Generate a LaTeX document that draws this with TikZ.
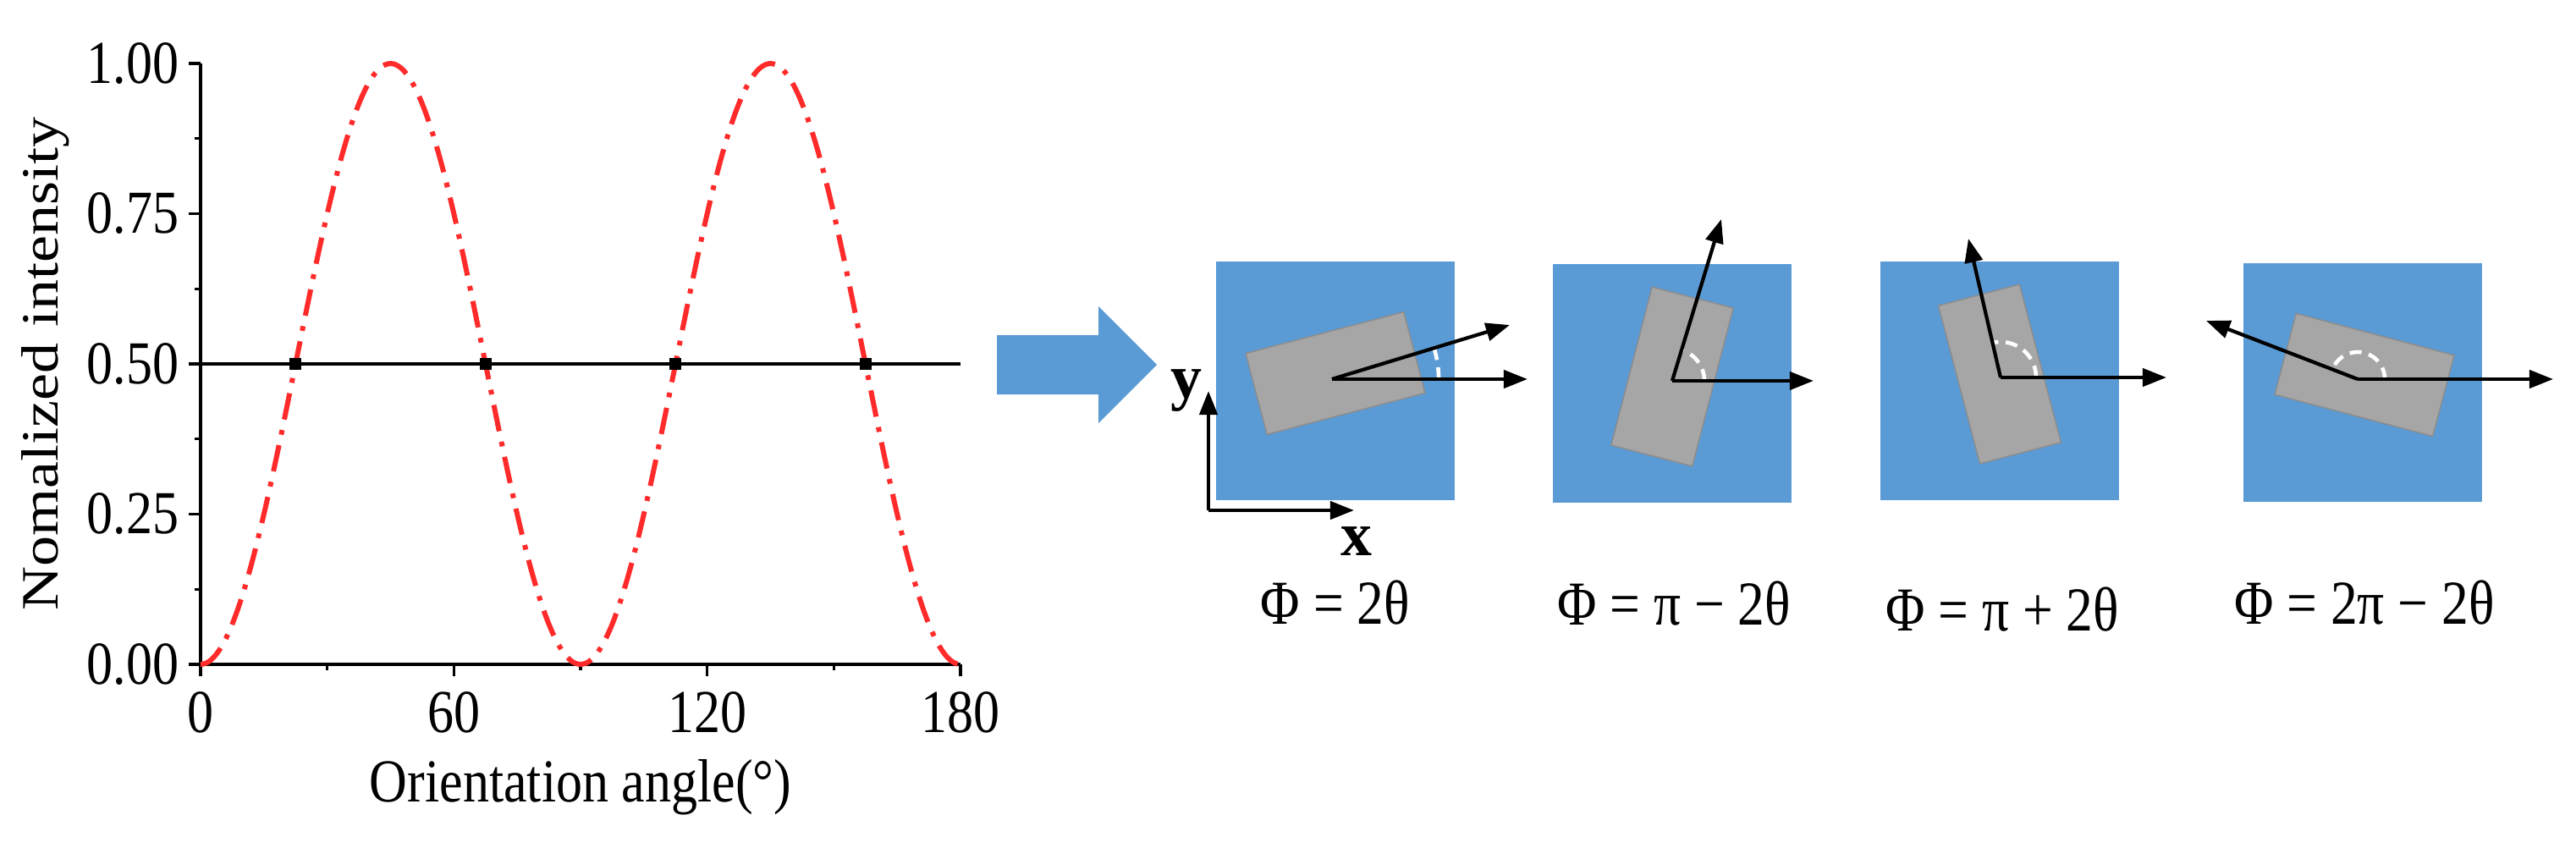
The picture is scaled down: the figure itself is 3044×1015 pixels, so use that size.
\documentclass[tikz,border=0pt]{standalone}
\usepackage{graphicx}
\usepackage{fontspec}
\setmainfont{Liberation Serif}
\usetikzlibrary{arrows.meta}
\newcommand{\cnd}[1]{\scalebox{0.86}[1]{#1}}
\begin{document}
\begin{tikzpicture}[x=0.01cm,y=-0.01cm,
  lbl/.style={font=\fontsize{20.5}{24}\selectfont, inner sep=0pt},
  phil/.style={font=\fontsize{21}{24}\selectfont, inner sep=0pt},
  axl/.style={font=\bfseries\fontsize{21}{24}\selectfont, inner sep=0pt},
  axline/.style={line width=0.9pt, black},
  mk/.style={fill=black, minimum size=0.14cm, inner sep=0pt},
  sq/.style={fill=sqblue, minimum width=2.81cm, minimum height=2.82cm, inner sep=0pt},
  gr/.style={fill=grayf, draw=grayd, line width=0.4pt, minimum width=1.93cm, minimum height=0.99cm, inner sep=0pt},
  vec/.style={line width=1.2pt, -{Triangle[length=8pt,width=6pt]}},
  arcd/.style={white, line width=1.3pt, dash pattern=on 4pt off 2.5pt}
]
\definecolor{sqblue}{HTML}{5B9BD5}
\definecolor{grayf}{HTML}{A6A6A6}
\definecolor{grayd}{HTML}{8C8C8C}
\definecolor{curvered}{HTML}{FF2A2A}
\useasboundingbox (0,0) rectangle (3044,1015);
% axes
\coordinate (O) at (237,785);
\coordinate (Ytop) at (237,75);
\coordinate (Xend) at (1135,785);
\draw[axline] (Ytop) -- (O) -- (Xend);
\foreach \v/\t in {0/0.00,0.25/0.25,0.5/0.50,0.75/0.75,1/1.00}{
  \draw[axline] (223,{785-710*\v}) -- (237,{785-710*\v});
  \node[lbl, anchor=east] (yl\t) at (212,{785-710*\v}) {\cnd{\t}};
}
\foreach \v in {0.125,0.375,0.625,0.875}{
  \draw[axline] (230,{785-710*\v}) -- (237,{785-710*\v});
}
\foreach \a in {0,60,120,180}{
  \draw[axline] ({237+\a*4.98889},785) -- ({237+\a*4.98889},799);
  \node[lbl] (xl\a) at ({237+\a*4.98889},842) {\cnd{\a}};
}
\foreach \a in {30,90,150}{
  \draw[axline] ({237+\a*4.98889},785) -- ({237+\a*4.98889},792);
}
\node[lbl, rotate=90] (ylab) at (54,430) {\scalebox{1}[0.86]{Nomalized intensity}};
\node[lbl] (xlab) at (686,930) {\cnd{Orientation angle(°)}};
% half line
\coordinate (h0) at (237,430);
\coordinate (h1) at (1135,430);
\draw[line width=1pt] (h0) -- (h1);
% curve
\draw[curvered, line width=1.7pt, dash pattern=on 9pt off 3.6pt on 1.6pt off 3.6pt]
  plot[domain=0:180, samples=240, smooth] ({237+\x*4.98889},{785-710*sin(2*\x)^2});
\foreach \a/\n in {22.5/m1,67.5/m2,112.5/m3,157.5/m4}{
  \node[mk] (\n) at ({237+\a*4.98889},430) {};
}
% big arrow
\fill[sqblue] (1178,396) -- (1298,396) -- (1298,362) -- (1367,431) -- (1298,500) -- (1298,466) -- (1178,466) -- cycle;
% squares
\node[sq] (s1) at (1578,450) {};
\node[sq] (s2) at (1976,453) {};
\node[sq] (s3) at (2363,450) {};
\node[sq] (s4) at (2792,452) {};
\node[gr, rotate=14.7] (g1) at (1578,441) {};
\node[gr, rotate=75.5] (g2) at (1976,445) {};
\node[gr, rotate=104.7] (g3) at (2363,442) {};
\node[gr, rotate=-14.8] (g4) at (2794,443) {};
% vectors
\coordinate (o1) at (1574,448);
\coordinate (a1) at (1784,384);
\coordinate (b1) at (1805,448);
\coordinate (o2) at (1976,450);
\coordinate (a2) at (2034,259);
\coordinate (b2) at (2143,450);
\coordinate (o3) at (2364,446);
\coordinate (a3) at (2326,282);
\coordinate (b3) at (2560,446);
\coordinate (o4) at (2786,448);
\coordinate (a4) at (2607,379);
\coordinate (b4) at (3017,448);
\draw[arcd] ([shift={(0:1.26cm)}]o1) arc[start angle=0, end angle=17, radius=1.26cm];
\draw[arcd] ([shift={(0:0.38cm)}]o2) arc[start angle=0, end angle=73, radius=0.38cm];
\draw[arcd] ([shift={(0:0.42cm)}]o3) arc[start angle=0, end angle=103, radius=0.42cm];
\draw[arcd] ([shift={(0:0.32cm)}]o4) arc[start angle=0, end angle=159, radius=0.32cm];
\foreach \i in {1,2,3,4}{
  \draw[vec] (o\i) -- (a\i);
  \draw[vec] (o\i) -- (b\i);
}
% frame axes
\coordinate (fo) at (1428,603);
\coordinate (fy) at (1428,462);
\coordinate (fx) at (1600,603);
\draw[vec] (fo) -- (fy);
\draw[vec] (fo) -- (fx);
\node[axl] (ly) at (1402,462) {y};
\node[axl] (lx) at (1603,640) {x};
% labels
\node[phil] (p1) at (1578,712) {\cnd{Φ = 2θ}};
\node[phil] (p2) at (1978,713) {\cnd{Φ = π − 2θ}};
\node[phil] (p3) at (2366,720) {\cnd{Φ = π + 2θ}};
\node[phil] (p4) at (2794,712) {\cnd{Φ = 2π − 2θ}};
\end{tikzpicture}
\end{document}
